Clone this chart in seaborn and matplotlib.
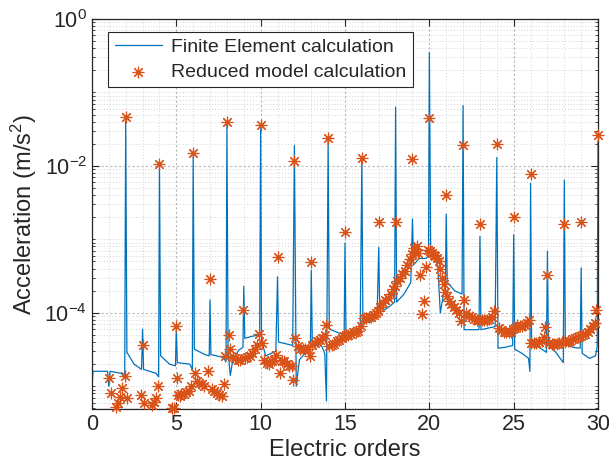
import numpy as np
import pandas as pd
import matplotlib.pyplot as plt
import matplotlib.ticker as mticker
import seaborn as sns

# finite element result (blue line), order vs acceleration
fe_order = [0.00, 0.06, 0.92, 1.00, 1.08, 1.75, 1.94, 2.00, 2.07, 2.50, 2.94, 3.00, 3.06, 3.80, 3.95,
            4.00, 4.07, 4.60, 4.95, 5.00, 5.06, 5.80, 5.95, 6.00, 6.07, 6.70, 6.95, 7.00, 7.05, 7.70,
            7.95, 8.00, 8.07, 8.20, 8.35, 8.70, 8.95, 9.00, 9.06, 9.50, 9.94, 10.00, 10.05, 10.30,
            10.90, 11.00, 11.06, 11.90, 12.00, 12.11, 12.30, 12.80, 12.95, 13.00, 13.06, 13.60,
            13.80, 13.90, 14.00, 14.07, 14.95, 15.00, 15.06, 15.90, 16.00, 16.06, 16.90, 17.00,
            17.06, 17.60, 17.94, 18.00, 18.06, 18.50, 18.90, 19.00, 19.06, 19.40, 19.80, 19.95,
            20.00, 20.08, 20.30, 20.50, 20.65, 20.80, 20.95, 21.00, 21.06, 21.50, 21.94, 22.00,
            22.06, 22.94, 23.00, 23.06, 23.90, 24.00, 24.07, 24.50, 24.94, 25.00, 25.06, 25.50,
            25.88, 25.96, 26.00, 26.06, 26.50, 26.94, 27.00, 27.06, 27.50, 27.94, 28.00, 28.06,
            28.50, 28.94, 29.00, 29.06, 29.50, 29.85, 29.95, 30.00]
fe_acc = [1.0e-5, 1.6e-5, 1.6e-5, 1.0e-5, 1.6e-5, 1.5e-5, 1.3e-5, 4.1e-2, 2.9e-5, 2.0e-5, 1.7e-5,
          6.0e-5, 1.7e-5, 1.5e-5, 1.35e-5, 1.15e-2, 2.6e-5, 2.0e-5, 1.9e-5, 6.2e-5, 2.1e-5, 2.0e-5,
          1.7e-5, 1.35e-2, 3.2e-5, 2.7e-5, 2.6e-5, 1.5e-4, 2.7e-5, 2.5e-5, 2.2e-5, 3.6e-2, 3.0e-5,
          1.4e-5, 2.3e-5, 3.1e-5, 3.4e-5, 2.3e-4, 4.5e-5, 4.8e-5, 5.0e-5, 3.2e-2, 4.2e-5, 2.6e-5,
          3.0e-5, 3.1e-4, 4.0e-5, 3.6e-5, 1.9e-2, 1.0e-5, 2.3e-5, 3.1e-5, 3.5e-5, 3.8e-4, 4.0e-5,
          3.6e-5, 2.8e-5, 6.3e-6, 2.2e-2, 6.0e-5, 5.0e-5, 8.9e-4, 5.0e-5, 5.8e-5, 1.26e-2, 7.2e-5,
          8.5e-5, 7.8e-4, 1.0e-4, 1.2e-4, 1.4e-4, 6.3e-2, 1.4e-4, 1.8e-4, 2.6e-4, 1.9e-3, 4.5e-4,
          5.5e-4, 5.5e-4, 6.0e-4, 3.5e-1, 6.6e-4, 6.0e-4, 4.3e-4, 1.0e-4, 1.6e-4, 2.5e-4, 2.2e-3,
          2.6e-4, 2.0e-4, 1.8e-4, 6.6e-2, 5.9e-5, 5.9e-5, 1.1e-3, 5.9e-5, 6.5e-5, 1.3e-2, 3.3e-5,
          3.4e-5, 3.6e-5, 1.15e-3, 3.2e-5, 2.8e-5, 2.4e-5, 1.6e-5, 5.8e-3, 4.3e-5, 3.4e-5, 2.9e-5,
          6.9e-4, 3.6e-5, 2.9e-5, 2.1e-5, 6.4e-3, 4.0e-5, 3.4e-5, 3.3e-5, 4.1e-4, 2.8e-5, 2.4e-5,
          2.6e-5, 3.5e-5, 2.2e-2]

# reduced model result (orange asterisks)
rm_order = [1.00, 1.10, 1.44, 1.54, 1.64, 1.80, 1.94, 2.00, 2.10, 2.90, 3.00, 3.10, 3.55, 3.70, 3.80,
            3.92, 4.00, 4.72, 4.85, 5.00, 5.05, 5.10, 5.20, 5.30, 5.45, 5.60, 5.75, 5.90, 6.00, 6.10,
            6.20, 6.35, 6.50, 6.65, 6.88, 7.00, 7.10, 7.25, 7.40, 7.55, 7.70, 7.81, 7.90, 8.00, 8.10,
            8.20, 8.35, 8.50, 8.65, 8.80, 8.95, 9.05, 9.20, 9.35, 9.50, 9.65, 9.80, 9.92, 10.00,
            10.08, 10.20, 10.35, 10.50, 10.65, 10.80, 10.93, 11.00, 11.13, 11.25, 11.40, 11.55,
            11.70, 11.85, 11.92, 12.00, 12.05, 12.20, 12.35, 12.50, 12.65, 12.80, 12.90, 13.00,
            13.04, 13.20, 13.35, 13.50, 13.65, 13.80, 13.89, 14.00, 14.05, 14.20, 14.35, 14.50,
            14.65, 14.80, 14.92, 15.00, 15.08, 15.20, 15.35, 15.50, 15.65, 15.80, 15.93, 16.00,
            16.10, 16.25, 16.40, 16.55, 16.70, 16.85, 16.95, 17.00, 17.10, 17.25, 17.40, 17.55,
            17.70, 17.85, 17.95, 18.00, 18.10, 18.25, 18.40, 18.55, 18.70, 18.85, 18.95, 19.00,
            19.10, 19.15, 19.25, 19.35, 19.45, 19.55, 19.68, 19.80, 19.94, 20.00, 20.05, 20.15,
            20.25, 20.35, 20.45, 20.55, 20.63, 20.73, 20.85, 20.95, 21.00, 21.05, 21.15, 21.30,
            21.45, 21.60, 21.75, 21.87, 22.00, 22.05, 22.20, 22.35, 22.50, 22.65, 22.80, 22.95,
            23.00, 23.10, 23.25, 23.40, 23.55, 23.70, 23.85, 24.00, 24.10, 24.25, 24.40, 24.55,
            24.70, 24.85, 24.95, 25.00, 25.07, 25.20, 25.35, 25.50, 25.65, 25.80, 25.90, 26.00,
            26.05, 26.20, 26.35, 26.50, 26.65, 26.80, 26.85, 27.00, 27.10, 27.25, 27.40, 27.55,
            27.70, 27.85, 28.00, 28.05, 28.20, 28.35, 28.50, 28.65, 28.80, 28.95, 29.00, 29.10,
            29.25, 29.40, 29.55, 29.70, 29.80, 29.90, 30.00]
rm_acc = [1.3e-5, 8.1e-6, 5.2e-6, 5.9e-6, 7.1e-6, 9.5e-6, 1.4e-5, 4.6e-2, 6.9e-6, 7.6e-6, 3.7e-5,
          5.9e-6, 5.5e-6, 6.2e-6, 6.9e-6, 1.0e-5, 1.05e-2, 5.1e-6, 5.0e-6, 6.7e-5, 1.3e-5, 7.6e-6,
          7.4e-6, 7.8e-6, 7.9e-6, 8.3e-6, 8.7e-6, 1.0e-5, 1.49e-2, 1.5e-5, 1.17e-5, 1.12e-5, 1.07e-5,
          1.0e-5, 1.6e-5, 2.9e-4, 9.3e-6, 8.7e-6, 8.1e-6, 7.6e-6, 7.4e-6, 1.07e-5, 2.6e-5, 3.9e-2,
          5.0e-5, 3.2e-5, 2.5e-5, 2.4e-5, 2.3e-5, 2.3e-5, 1.1e-4, 2.4e-5, 2.5e-5, 2.6e-5, 2.8e-5,
          3.2e-5, 3.7e-5, 5.2e-5, 3.6e-2, 3.9e-5, 2.3e-5, 2.1e-5, 2.0e-5, 2.2e-5, 2.3e-5, 2.7e-5,
          5.8e-4, 1.5e-5, 2.2e-5, 2.2e-5, 2.0e-5, 1.9e-5, 1.9e-5, 1.2e-5, 1.15e-2, 4.5e-5, 3.5e-5,
          3.2e-5, 3.2e-5, 3.2e-5, 3.2e-5, 2.6e-5, 4.9e-4, 3.7e-5, 3.9e-5, 4.1e-5, 4.3e-5, 4.5e-5,
          5.0e-5, 6.9e-5, 2.4e-2, 3.5e-5, 3.6e-5, 3.8e-5, 4.1e-5, 4.3e-5, 4.5e-5, 4.8e-5, 1.25e-3,
          5.0e-5, 5.0e-5, 5.2e-5, 5.4e-5, 5.5e-5, 5.6e-5, 6.6e-5, 1.3e-2, 8.5e-5, 8.5e-5, 8.7e-5,
          8.9e-5, 9.3e-5, 1.0e-4, 1.07e-4, 1.7e-3, 1.2e-4, 1.35e-4, 1.5e-4, 1.6e-4, 1.8e-4, 2.1e-4,
          2.3e-4, 1.7e-3, 2.7e-4, 3.0e-4, 3.4e-4, 3.7e-4, 4.5e-4, 5.4e-4, 6.3e-4, 1.25e-2, 7.6e-4,
          6.6e-4, 8.1e-4, 6.6e-4, 3.3e-4, 9.5e-5, 1.45e-4, 4.2e-4, 7.2e-4, 4.5e-2, 6.9e-4, 6.6e-4,
          6.2e-4, 5.9e-4, 5.5e-4, 5.0e-4, 3.9e-4, 3.0e-4, 2.5e-4, 1.9e-4, 4.0e-3, 1.7e-4, 1.45e-4,
          1.3e-4, 1.2e-4, 1.1e-4, 1.0e-4, 7.8e-5, 1.9e-2, 1.5e-4, 1.0e-4, 9.1e-5, 8.7e-5, 8.3e-5,
          8.1e-5, 7.9e-5, 1.6e-3, 7.9e-5, 7.9e-5, 8.1e-5, 8.3e-5, 8.7e-5, 1.05e-4, 2.0e-2, 6.3e-5,
          5.8e-5, 5.5e-5, 5.4e-5, 5.4e-5, 5.5e-5, 6.0e-5, 2.0e-3, 6.3e-5, 6.8e-5, 6.6e-5, 6.6e-5,
          6.8e-5, 7.2e-5, 8.0e-5, 7.8e-3, 3.9e-5, 3.9e-5, 3.9e-5, 4.0e-5, 4.1e-5, 4.7e-5, 6.5e-5,
          3.3e-4, 3.9e-5, 3.8e-5, 3.8e-5, 3.8e-5, 3.9e-5, 4.0e-5, 1.6e-3, 4.0e-5, 4.1e-5, 4.2e-5,
          4.4e-5, 4.6e-5, 4.7e-5, 4.9e-5, 1.75e-3, 5.0e-5, 5.2e-5, 5.5e-5, 6.0e-5, 6.6e-5, 7.2e-5,
          1.1e-4, 2.6e-2]

fe = pd.DataFrame({'order': fe_order, 'acc': fe_acc})
rm = pd.DataFrame({'order': rm_order, 'acc': rm_acc})

sns.set_style('ticks')
plt.rcParams['font.family'] = ['Liberation Sans', 'DejaVu Sans']
plt.rcParams['mathtext.fontset'] = 'custom'
plt.rcParams['mathtext.rm'] = 'Liberation Sans'
plt.rcParams['mathtext.it'] = 'Liberation Sans:italic'
plt.rcParams['mathtext.bf'] = 'Liberation Sans:bold'

dark = '#262626'
fig = plt.figure(figsize=(6.09, 4.74), dpi=100)
ax = fig.add_axes([0.151, 0.137, 0.831, 0.823])
ax.set_yscale('log')

sns.lineplot(x='order', y='acc', data=fe, ax=ax, color='#0072BD', linewidth=0.9,
             estimator=None, sort=False, label='Finite Element calculation')
sns.scatterplot(x='order', y='acc', data=rm, ax=ax, marker=(8, 2, 0), color='#D95319',
                s=60, linewidth=0.85, clip_on=False, zorder=3, label='Reduced model calculation')

ax.set_xlim(0, 30)
ax.set_ylim(4.9e-6, 1)
ax.set_xticks(np.arange(0, 31, 5))
ax.xaxis.set_minor_locator(mticker.MultipleLocator(1))
ax.set_yticks([1e-4, 1e-2, 1])
ax.yaxis.set_major_formatter(mticker.LogFormatterSciNotation())
ax.yaxis.set_minor_locator(mticker.LogLocator(base=10, subs=np.arange(1, 10), numticks=20))
ax.yaxis.set_minor_formatter(mticker.NullFormatter())

# matlab-like grid: dashed major, dotted minor
ax.grid(True, which='major', color='#b8b8b8', linestyle=(0, (2, 2)), linewidth=0.8)
ax.grid(True, which='minor', color='#d4d4d4', linestyle=(0, (1, 2)), linewidth=0.7)
ax.set_axisbelow(True)

ax.tick_params(which='both', direction='in', top=True, right=True, colors=dark, labelsize=15.5)
ax.tick_params(which='major', length=5, width=0.8)
ax.tick_params(which='minor', length=2.5, width=0.6)
ax.tick_params(axis='x', which='minor', length=0)
for s in ax.spines.values():
    s.set_color(dark)
    s.set_linewidth(0.9)

ax.set_xlabel('Electric orders', fontsize=17, color=dark, labelpad=3)
ax.set_ylabel('Acceleration (m/s$^2$)', fontsize=17, color=dark, labelpad=4)

leg = ax.legend(loc='upper left', bbox_to_anchor=(0.032, 0.967), borderaxespad=0, fontsize=14,
                frameon=True, fancybox=False, framealpha=1, edgecolor=dark, handlelength=2.4,
                handletextpad=0.5, labelspacing=0.35, borderpad=0.35)
leg.get_frame().set_linewidth(0.8)

plt.savefig('out.png', dpi=100)
